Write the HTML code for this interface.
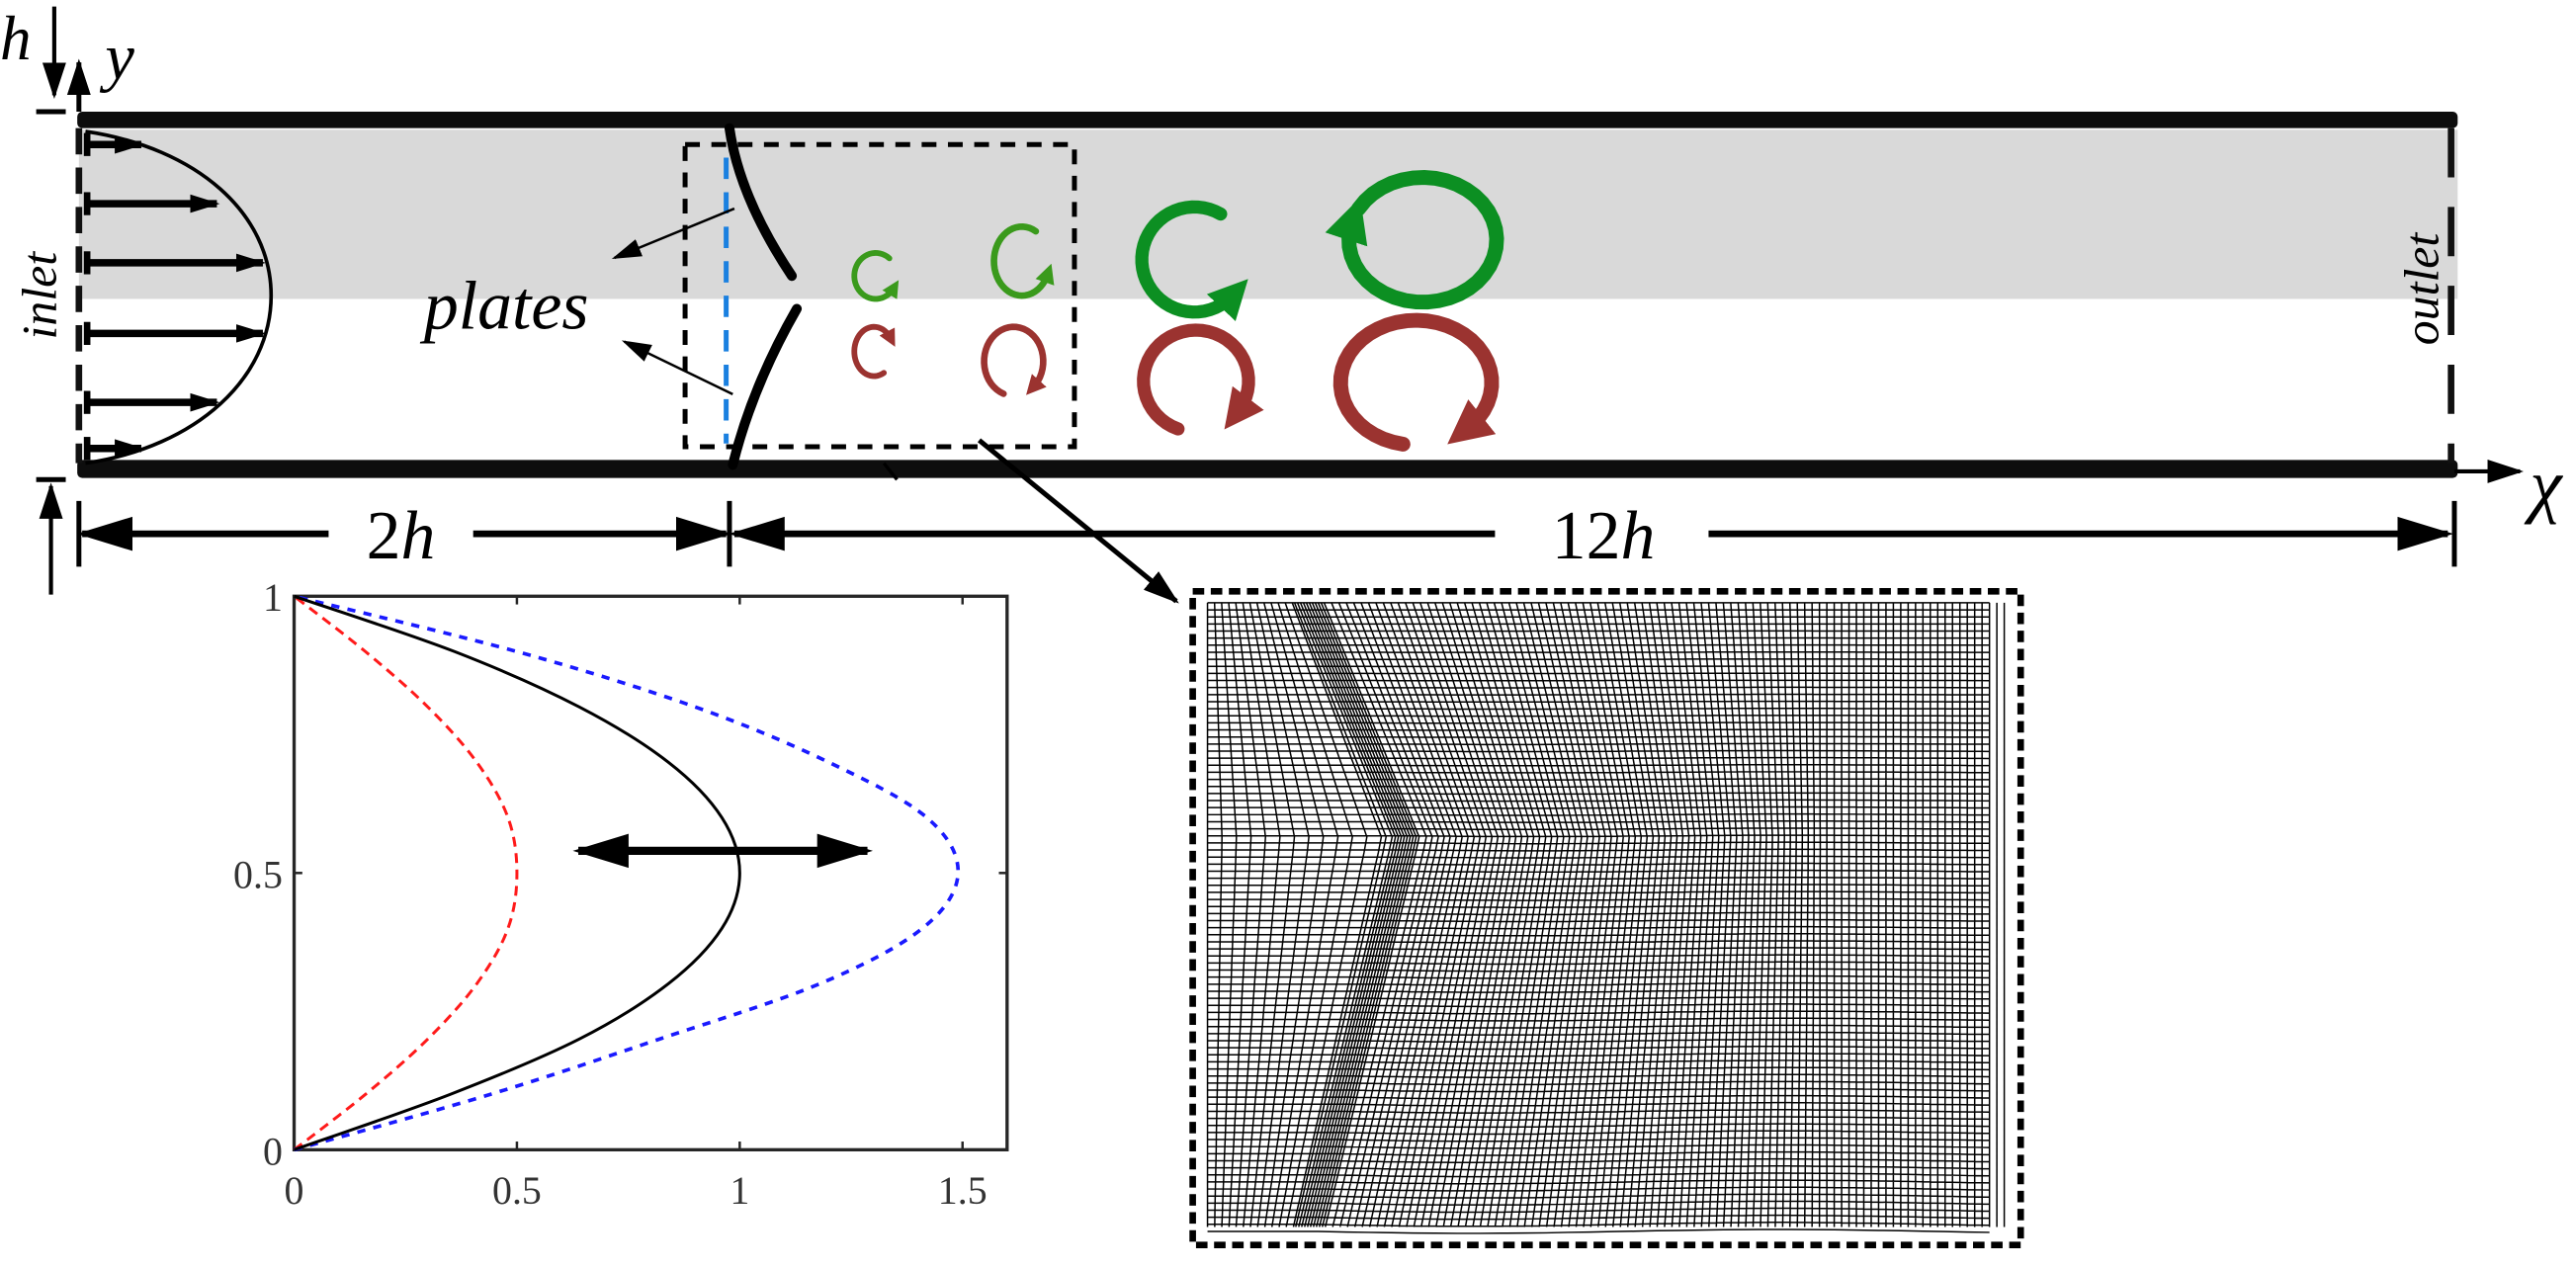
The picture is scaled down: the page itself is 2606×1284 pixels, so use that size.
<!DOCTYPE html>
<html><head><meta charset="utf-8"><style>
html,body{margin:0;padding:0;background:#fff;}
svg{display:block;}
svg text{font-family:"Liberation Serif","DejaVu Serif",serif;}
</style></head><body>
<svg id="fig" width="2606" height="1284" viewBox="0 0 1568 772.6" xmlns="http://www.w3.org/2000/svg" font-family="Liberation Serif, serif">
<defs>
<marker id="ahs" viewBox="0 0 10 10" refX="9" refY="5" markerUnits="userSpaceOnUse" markerWidth="22" markerHeight="18" orient="auto-start-reverse" preserveAspectRatio="none"><path d="M0,1L10,5L0,9z" fill="#000"/></marker>
<marker id="ahm" viewBox="0 0 10 10" refX="9" refY="5" markerUnits="userSpaceOnUse" markerWidth="18" markerHeight="14" orient="auto-start-reverse" preserveAspectRatio="none"><path d="M0,1L10,5L0,9z" fill="#000"/></marker>
<marker id="ahb" viewBox="0 0 10 10" refX="9" refY="5" markerUnits="userSpaceOnUse" markerWidth="34" markerHeight="26" orient="auto-start-reverse" preserveAspectRatio="none"><path d="M0,1L10,5L0,9z" fill="#000"/></marker>
<marker id="ahg" viewBox="0 0 10 10" refX="5" refY="5" markerWidth="3" markerHeight="3" orient="auto"><path d="M0,0L10,5L0,10z" fill="context-stroke"/></marker>
</defs>

<g>
<rect x="48" y="79" width="1448" height="103" fill="#d9d9d9"/>
<rect x="47" y="68" width="1449" height="10" rx="3" fill="#0d0d0d"/>
<rect x="47" y="280" width="1449" height="11" rx="3" fill="#0d0d0d"/>
<line x1="48" y1="78" x2="48" y2="282" stroke="#111" stroke-width="4" stroke-dasharray="16,8"/>
<line x1="1492" y1="78" x2="1492" y2="282" stroke="#111" stroke-width="4" stroke-dasharray="30,18"/>
<text transform="translate(34,180) rotate(-90)" text-anchor="middle" font-size="30" font-style="italic">inlet</text>
<text transform="translate(1484,176) rotate(-90)" text-anchor="middle" font-size="30" font-style="italic">outlet</text>
<path d="M52,80 C 120,90 165,130 165,180 C 165,230 120,272 52,282" fill="none" stroke="#000" stroke-width="2.2"/>
<g id="inletArrows"></g>
<path d="M444,78 Q450,120 482,168" fill="none" stroke="#000" stroke-width="6" stroke-linecap="round"/>
<path d="M485,188 Q458,235 446,283" fill="none" stroke="#000" stroke-width="6" stroke-linecap="round"/>
<line x1="442" y1="96" x2="442" y2="270" stroke="#1a80e0" stroke-width="3" stroke-dasharray="13,8"/>
<rect x="417" y="88" width="237" height="184" fill="none" stroke="#000" stroke-width="3" stroke-dasharray="9,7"/>
<text x="258" y="200" font-size="42" font-style="italic">plates</text>
<line x1="447" y1="127" x2="374" y2="157" stroke="#000" stroke-width="1.5" marker-end="url(#ahm)"/>
<line x1="446" y1="240" x2="380" y2="208" stroke="#000" stroke-width="1.5" marker-end="url(#ahm)"/>
<g id="vortices"></g>
<text x="0" y="36" font-size="38" font-style="italic">h</text>
<line x1="33" y1="4" x2="33" y2="58" stroke="#000" stroke-width="2.5" marker-end="url(#ahs)"/>
<line x1="31" y1="362" x2="31" y2="296" stroke="#000" stroke-width="2.5" marker-end="url(#ahs)"/>
<line x1="22" y1="68" x2="40" y2="68" stroke="#000" stroke-width="3"/>
<line x1="22" y1="292" x2="40" y2="292" stroke="#000" stroke-width="3"/>
<line x1="48" y1="68" x2="48" y2="38" stroke="#000" stroke-width="3" marker-end="url(#ahs)"/>
<text x="64" y="48" font-size="40" font-style="italic">y</text>
<line x1="1494" y1="287" x2="1534" y2="287" stroke="#000" stroke-width="2.5" marker-end="url(#ahs)"/>
<text x="1540" y="310" font-size="44" font-style="italic">χ</text>
<line x1="48" y1="305" x2="48" y2="345" stroke="#000" stroke-width="3"/>
<line x1="444" y1="305" x2="444" y2="345" stroke="#000" stroke-width="3"/>
<line x1="1494" y1="305" x2="1494" y2="345" stroke="#000" stroke-width="3"/>
<line x1="200" y1="325" x2="50" y2="325" stroke="#000" stroke-width="4" marker-end="url(#ahb)"/>
<line x1="288" y1="325" x2="442" y2="325" stroke="#000" stroke-width="4" marker-end="url(#ahb)"/>
<text x="244" y="340" text-anchor="middle" font-size="42">2<tspan font-style="italic">h</tspan></text>
<line x1="910" y1="325" x2="447" y2="325" stroke="#000" stroke-width="4" marker-end="url(#ahb)"/>
<line x1="1040" y1="325" x2="1490" y2="325" stroke="#000" stroke-width="4" marker-end="url(#ahb)"/>
<text x="976" y="340" text-anchor="middle" font-size="42">12<tspan font-style="italic">h</tspan></text>
<line x1="596" y1="268" x2="716" y2="366" stroke="#000" stroke-width="3" marker-end="url(#ahs)"/>
<line x1="538" y1="282" x2="546" y2="292" stroke="#000" stroke-width="2"/>
</g>

<g id="chart">
<rect x="179" y="363" width="434" height="337" fill="none" stroke="#262626" stroke-width="2"/>
<g id="ticks"></g>
<g id="series"></g>
<line x1="352" y1="518" x2="528" y2="518" stroke="#000" stroke-width="5" marker-start="url(#ahb)" marker-end="url(#ahb)"/>
</g>

<g>
<rect x="726" y="360" width="504" height="398" fill="#fff" stroke="#000" stroke-width="4" stroke-dasharray="7,4"/>
<g id="mesh" stroke="#000" stroke-width="0.9" fill="none"></g>
</g>
</svg>
<script>
const yVals = [0,0.1,0.2,0.3,0.4,0.5,0.6,0.7,0.8,0.9,1];
const profileBlack = [0,0.35,0.64,0.84,0.96,1.0,0.96,0.84,0.64,0.36,0];
const profileRed = [0,0.16,0.30,0.41,0.48,0.50,0.48,0.41,0.30,0.16,0];
const profileBlue = [0,0.44,0.82,1.18,1.41,1.49,1.42,1.20,0.90,0.50,0];
const xTicks = [0,0.5,1,1.5];
const xTickLabels = ["0","0.5","1","1.5"];
const yTicks = [0,0.5,1];
const yTickLabels = ["0","0.5","1"];

const NS="http://www.w3.org/2000/svg";
function mk(tag,attrs,parent){const e=document.createElementNS(NS,tag);for(const k in attrs)e.setAttribute(k,attrs[k]);parent.appendChild(e);return e;}
const X0=179,X1=613,Y0=700,Y1=363,XMAX=1.6;
const sx=v=>X0+v/XMAX*(X1-X0);
const sy=v=>Y0-v*(Y0-Y1);

const tg=document.getElementById('ticks');
xTicks.forEach((t,i)=>{
  const l=mk('line',{x1:sx(t),x2:sx(t),y1:Y0,y2:Y0-5,stroke:'#262626','stroke-width':1.5},tg);
  
  
  const l2=mk('line',{x1:sx(t),x2:sx(t),y1:Y1,y2:Y1+5,stroke:'#262626','stroke-width':1.5},tg);
  
  
  const tx=mk('text',{x:sx(t),y:Y0+33,'text-anchor':'middle','font-size':24,fill:'#333'},tg);
  tx.textContent=xTickLabels[i];
  
  
});
yTicks.forEach((t,i)=>{
  const l=mk('line',{x1:X0,x2:X0+5,y1:sy(t),y2:sy(t),stroke:'#262626','stroke-width':1.5},tg);
  
  
  const l2=mk('line',{x1:X1,x2:X1-5,y1:sy(t),y2:sy(t),stroke:'#262626','stroke-width':1.5},tg);
  
  
  const tx=mk('text',{x:X0-7,y:sy(t)+9,'text-anchor':'end','font-size':24,fill:'#333'},tg);
  tx.textContent=yTickLabels[i];
  
  
});
function smoothPath(xs){
  const pts=xs.map((v,i)=>[sx(v),sy(yVals[i])]);
  let d='M'+pts[0][0]+','+pts[0][1];
  for(let i=0;i<pts.length-1;i++){
    const p0=pts[Math.max(0,i-1)],p1=pts[i],p2=pts[i+1],p3=pts[Math.min(pts.length-1,i+2)];
    const c1=[p1[0]+(p2[0]-p0[0])/6,p1[1]+(p2[1]-p0[1])/6];
    const c2=[p2[0]-(p3[0]-p1[0])/6,p2[1]-(p3[1]-p1[1])/6];
    d+=' C'+c1+' '+c2+' '+p2;
  }
  return d;
}
const sg=document.getElementById('series');
const pr=mk('path',{d:smoothPath(profileRed),fill:'none',stroke:'#ff1a1a','stroke-width':1.8,'stroke-dasharray':'6,4'},sg);


const pb=mk('path',{d:smoothPath(profileBlue),fill:'none',stroke:'#1a1aff','stroke-width':2.2,'stroke-dasharray':'5,5'},sg);


const pk=mk('path',{d:smoothPath(profileBlack),fill:'none',stroke:'#000','stroke-width':1.8},sg);



const ia=document.getElementById('inletArrows');
[[88,34],[124,80],[160,108],[203,108],[245,80],[273,34]].forEach(a=>{
  const l=mk('line',{x1:52,y1:a[0],x2:52+a[1],y2:a[0],stroke:'#000','stroke-width':4.5,'marker-end':'url(#ahm)'},ia);
  
  
  const t=mk('line',{x1:53,y1:a[0]-7,x2:53,y2:a[0]+7,stroke:'#000','stroke-width':4},ia);
  
  
});

const vg=document.getElementById('vortices');
function vortex(cx,cy,rx,ry,a0,a1,col,w){
  const p=[];const n=40;
  for(let i=0;i<=n;i++){const a=(a0+(a1-a0)*i/n)*Math.PI/180;p.push([cx+rx*Math.cos(a),cy+ry*Math.sin(a)]);}
  const pa=mk('path',{d:'M'+p.map(q=>q.join(',')).join(' L'),fill:'none',stroke:col,'stroke-width':w,'stroke-linecap':'round','marker-end':'url(#ahg)'},vg);
  
  
}
vortex(533,168,13,14,-50,-330,'#3a9a1c',3.5);
vortex(622,159,17,21,-60,-340,'#3a9a1c',4);
vortex(727,158,32,32,-60,-320,'#0c8f22',8);
vortex(866,146,45,38,-150,200,'#0c8f22',9);
vortex(532,214,12,15,60,330,'#9b3330',3.5);
vortex(617,220,18,21,110,410,'#9b3330',4);
vortex(728,232,32,31,110,400,'#9b3330',8);
vortex(862,233,46,38,100,410,'#9b3330',9);

const mg=document.getElementById('mesh');
const L=735,R=1222,T=367,B=750;
function bend(y){const mid=510;return y<mid?(y-T)/(mid-T):(B-y)/(B-mid);}
function disp(x,y){
  const b=bend(y)*58;
  let w;
  if(x<790) w=(x-L)/(790-L);
  else if(x<810) w=1;
  else w=Math.max(0,1-(x-810)/300);
  return b*w;
}
let d='';
const cols=[];
for(let x=L;x<788;x+=4.3)cols.push(x);
for(let x=788;x<806;x+=1.8)cols.push(x);
for(let x=806;x<=R;x+=4.5)cols.push(x);
cols.forEach(x=>{
  let s='';
  for(let y=T;y<=B+0.1;y+=9.5){const yy=Math.min(y,B);s+=(s?'L':'M')+(x+disp(x,yy)).toFixed(1)+','+yy.toFixed(1);}
  d+=s;
});
for(let y=T;y<=B;y+=4.3){
  let s='';
  for(let k=0;k<cols.length;k+=3){const x=cols[k];const yy=y+(x>800?Math.sin((x-800)/60)*1.2*(y-T)/(B-T):0);s+=(s?'L':'M')+(x+disp(x,y)).toFixed(1)+','+yy.toFixed(1);}
  d+=s;
}
const mp=mk('path',{d:d},mg);


</script>
</body></html>
